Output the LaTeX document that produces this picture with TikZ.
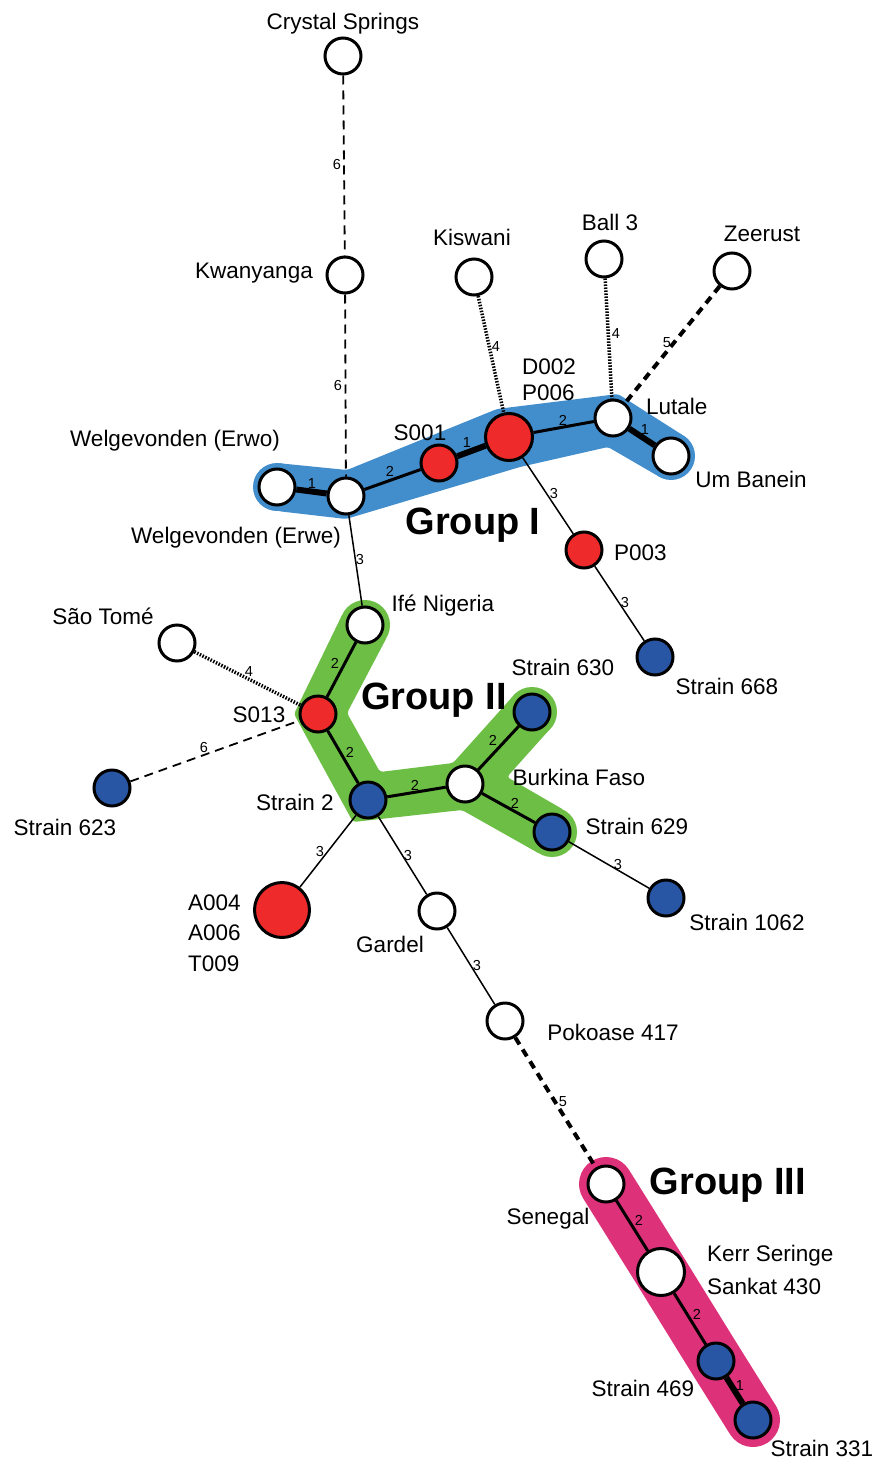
\documentclass[tikz,border=0pt]{standalone}
\usepackage{fontspec}
\setmainfont{Liberation Sans}
\pgfdeclarelayer{bg}
\pgfsetlayers{bg,main}
\definecolor{hlblue}{RGB}{66,142,204}
\definecolor{hlgreen}{RGB}{109,190,69}
\definecolor{hlpink}{RGB}{221,49,122}
\definecolor{nred}{RGB}{238,42,42}
\definecolor{nblue}{RGB}{40,86,164}
\begin{document}
\begin{tikzpicture}[x=1pt,y=-1pt,
  nd/.style={circle, draw=black, line width=3pt, minimum size=36pt, inner sep=0pt, fill=white},
  rn/.style={nd, fill=nred},
  bn/.style={nd, fill=nblue},
  bigger/.style={minimum size=47pt},
  biggest/.style={minimum size=55pt},
  lab/.style={font=\fontsize{22.5}{27}\selectfont, inner sep=0pt, text height=16pt, text depth=0pt},
  grp/.style={font=\fontsize{38}{44}\selectfont\bfseries, inner sep=0pt, text height=27pt, text depth=0pt},
  elab/.style={font=\fontsize{14.5}{16}\selectfont, inner sep=0pt, text height=10pt, text depth=0pt},
  wA/.style={line width=6pt},
  wB/.style={line width=3pt},
  wC/.style={line width=1.5pt},
  wD/.style={line width=3.5pt, dash pattern=on 1.5pt off 1.5pt},
  wE/.style={line width=4pt, dash pattern=on 8pt off 6pt},
  wF/.style={line width=1.8pt, dash pattern=on 9pt off 6pt},
  hl/.style={line width=54pt, line cap=round, line join=round},
  band/.style={rounded corners=3pt}
]
\useasboundingbox (0,0) rectangle (877,1458);

% nodes
\node[nd] (cs) at (343,56) {};
\node[nd] (kw) at (345,275) {};
\node[nd] (erwo) at (277,487) {};
\node[nd] (erwe) at (346,496) {};
\node[rn] (s001) at (439,463) {};
\node[rn, bigger] (d002) at (509,437) {};
\node[nd] (lut) at (613,418) {};
\node[nd] (umb) at (671,456) {};
\node[nd] (kis) at (474,277) {};
\node[nd] (ball) at (604,259) {};
\node[nd] (zee) at (732,271) {};
\node[rn] (p003) at (584,550) {};
\node[bn] (s668) at (655,657) {};
\node[nd] (ife) at (365,625) {};
\node[nd] (st) at (177,643) {};
\node[rn] (s013) at (318,714) {};
\node[bn] (s623) at (112,788) {};
\node[bn] (s2) at (368,800) {};
\node[nd] (bf) at (465,784) {};
\node[bn] (s630) at (532,712) {};
\node[bn] (s629) at (552,832) {};
\node[bn] (s1062) at (666,898) {};
\node[rn, biggest] (a004) at (282,910) {};
\node[nd] (gar) at (437,911) {};
\node[nd] (pok) at (505,1021) {};
\node[nd] (sen) at (606,1184) {};
\node[nd, bigger] (kerr) at (661,1272) {};
\node[bn] (s469) at (716,1361) {};
\node[bn] (s331) at (753,1420) {};

% background and group highlights
\begin{pgfonlayer}{bg}
\fill[white] (0,0) rectangle (877,1458);
% Group I
\fill[hlblue, band] (277,463) -- (347,470) -- (497,409) -- (618,394) -- (684,436)
   -- (658,476) -- (608,447) -- (520,467) -- (346,519) -- (277,511) -- cycle;
\fill[hlblue] (erwo.center) circle[radius=24pt];
\fill[hlblue] (umb.center) circle[radius=24pt];
% Group II
\fill[hlgreen, band] (343,613) -- (294,714) -- (353,822) -- (462,810) -- (540,854)
   -- (564,810) -- (507,777) -- (550,729) -- (514,695) -- (453,763) -- (380,772)
   -- (347,713) -- (387,637) -- cycle;
\fill[hlgreen] (ife.center) circle[radius=25pt];
\fill[hlgreen] (s630.center) circle[radius=25pt];
\fill[hlgreen] (s629.center) circle[radius=25pt];
% Group III
\draw[hl, hlpink] (sen.center) -- (kerr.center) -- (s469.center) -- (s331.center);
\end{pgfonlayer}

% edges
\draw[wF] (cs) -- (kw) node[elab] (e1) at (337,165) {6};
\draw[wF] (kw) -- (erwe) node[elab] (e2) at (338,385) {6};
\draw[wA] (erwo) -- (erwe) node[elab] (e3) at (312,483) {1};
\draw[wB] (erwe) -- (s001) node[elab] (e4) at (390,471) {2};
\draw[wA] (s001) -- (d002) node[elab] (e5) at (467,442) {1};
\draw[wB] (d002) -- (lut) node[elab] (e6) at (563,420) {2};
\draw[wA] (lut) -- (umb) node[elab] (e7) at (645,429) {1};
\draw[wD] (kis) -- (d002) node[elab] (e8) at (496,346) {4};
\draw[wD] (ball) -- (lut) node[elab] (e9) at (616,333) {4};
\draw[wE] (zee) -- (lut) node[elab] (e10) at (667,342) {5};
\draw[wC] (d002) -- (p003) node[elab] (e11) at (554,493) {3};
\draw[wC] (p003) -- (s668) node[elab] (e12) at (625,602) {3};
\draw[wC] (erwe) -- (ife) node[elab] (e13) at (360,559) {3};
\draw[wB] (ife) -- (s013) node[elab] (e14) at (335,663) {2};
\draw[wD] (st) -- (s013) node[elab] (e15) at (249,671) {4};
\draw[wF] (s623) -- (s013) node[elab] (e16) at (204,747) {6};
\draw[wB] (s013) -- (s2) node[elab] (e17) at (350,752) {2};
\draw[wB] (s2) -- (bf) node[elab] (e18) at (415,785) {2};
\draw[wB] (bf) -- (s630) node[elab] (e19) at (493,740) {2};
\draw[wB] (bf) -- (s629) node[elab] (e20) at (515,803) {2};
\draw[wC] (s629) -- (s1062) node[elab] (e21) at (618,864) {3};
\draw[wC] (s2) -- (a004) node[elab] (e22) at (320,851) {3};
\draw[wC] (s2) -- (gar) node[elab] (e23) at (408,855) {3};
\draw[wC] (gar) -- (pok) node[elab] (e24) at (477,965) {3};
\draw[wE] (pok) -- (sen) node[elab] (e25) at (563,1101) {5};
\draw[wB] (sen) -- (kerr) node[elab] (e26) at (639,1220) {2};
\draw[wB] (kerr) -- (s469) node[elab] (e27) at (697,1314) {2};
\draw[wA] (s469) -- (s331) node[elab] (e28) at (740,1385) {1};

% node labels
\node[lab] (l-cs) at (343,22) {Crystal Springs};
\node[lab] (l-kw) at (254,270) {Kwanyanga};
\node[lab] (l-erwo) at (175,438) {Welgevonden (Erwo)};
\node[lab] (l-erwe) at (236,535) {Welgevonden (Erwe)};
\node[lab] (l-s001) at (420,432) {S001};
\node[lab, anchor=west] (l-d002) at (522,366) {D002};
\node[lab, anchor=west] (l-p006) at (522,392) {P006};
\node[lab, anchor=west] (l-lut) at (646,406) {Lutale};
\node[lab] (l-umb) at (751,479) {Um Banein};
\node[lab] (l-kis) at (472,237) {Kiswani};
\node[lab] (l-ball) at (610,222) {Ball 3};
\node[lab] (l-zee) at (762,233) {Zeerust};
\node[lab, anchor=west] (l-p003) at (614,552) {P003};
\node[lab] (l-s668) at (727,686) {Strain 668};
\node[lab] (l-ife) at (443,603) {Ifé Nigeria};
\node[lab] (l-st) at (103,616) {São Tomé};
\node[lab] (l-s630) at (563,667) {Strain 630};
\node[lab] (l-s013) at (259,714) {S013};
\node[lab] (l-bf) at (579,777) {Burkina Faso};
\node[lab] (l-s623) at (65,827) {Strain 623};
\node[lab] (l-s2) at (295,802) {Strain 2};
\node[lab] (l-s629) at (637,826) {Strain 629};
\node[lab, anchor=west] (l-a004) at (188,902) {A004};
\node[lab, anchor=west] (l-a006) at (188,932) {A006};
\node[lab, anchor=west] (l-t009) at (188,963) {T009};
\node[lab] (l-gar) at (390,944) {Gardel};
\node[lab] (l-s1062) at (747,922) {Strain 1062};
\node[lab] (l-pok) at (613,1032) {Pokoase 417};
\node[lab] (l-sen) at (548,1216) {Senegal};
\node[lab, anchor=west] (l-kerr) at (707,1253) {Kerr Seringe};
\node[lab, anchor=west] (l-sank) at (707,1286) {Sankat 430};
\node[lab] (l-s469) at (643,1388) {Strain 469};
\node[lab] (l-s331) at (822,1448) {Strain 331};

% group labels
\node[grp] (g1) at (473,521) {Group I};
\node[grp] (g2) at (434,696) {Group II};
\node[grp] (g3) at (728,1181) {Group III};
\end{tikzpicture}
\end{document}
